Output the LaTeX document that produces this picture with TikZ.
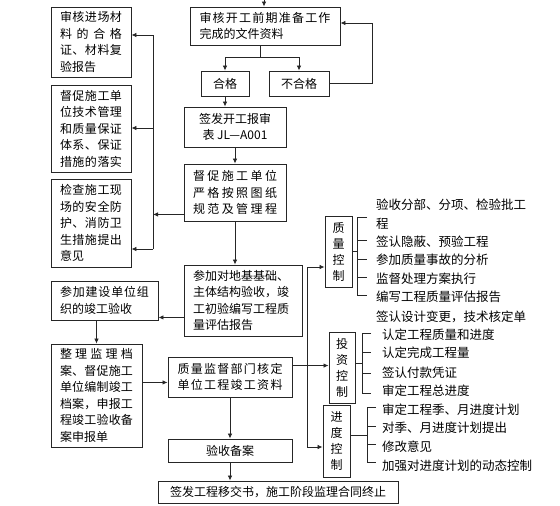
\documentclass[tikz,border=0pt]{standalone}
\usepackage{fontspec}
\newfontfamily\cjk{Noto Sans CJK SC}
\usetikzlibrary{calc,arrows.meta}
\makeatletter
\def\spr#1#2{\makebox[#1][s]{\spr@first#2\relax}}
\def\spr@first#1{#1\spr@loop}
\def\spr@loop#1{\ifx#1\relax\else\hfill#1\expandafter\spr@loop\fi}
\makeatother
\begin{document}
\begin{tikzpicture}[x=1pt,y=-1pt,
 box/.style={draw=black!85, line width=0.9pt, inner sep=0pt, font=\cjk\fontsize{12}{16.5}\selectfont, align=left},
 cbox/.style={box, align=center},
 vbox/.style={box, align=center, text width=14pt, font=\cjk\fontsize{12}{16}\selectfont},
 ln/.style={draw=black!85, line width=0.8pt},
 arr/.style={ln, -{Latex[length=5pt,width=4.5pt]}},
 lst/.style={anchor=west, inner sep=0pt, font=\cjk\fontsize{12.5}{14}\selectfont}]
\useasboundingbox (0,0) rectangle (560,506);
\fill[white] (0,0) rectangle (560,506);

% left column
\node[box, minimum width=80pt, minimum height=70pt, text width=62pt] (l1) at (91,42)
 {\spr{62pt}{审核进场材}\\\spr{62pt}{料的合格}\\\spr{62pt}{证、材料复}\\验报告};
\node[box, minimum width=80pt, minimum height=87pt, text width=62pt] (l2) at (91,128.5)
 {\spr{62pt}{督促施工单}\\\spr{62pt}{位技术管理}\\\spr{62pt}{和质量保证}\\\spr{62pt}{体系、保证}\\\spr{62pt}{措施的落实}};
\node[box, minimum width=80pt, minimum height=88pt, text width=62pt] (l3) at (91,223)
 {\spr{62pt}{检查施工现}\\\spr{62pt}{场的安全防}\\\spr{62pt}{护、消防卫}\\\spr{62pt}{生措施提出}\\意见};
\node[box, minimum width=107pt, minimum height=39pt, text width=89pt] (js) at (104.5,300.5)
 {\spr{89pt}{参加建设单位组}\\织的竣工验收};
\node[box, minimum width=91pt, minimum height=103pt, text width=73pt] (zl) at (96.5,395.5)
 {\spr{73pt}{整理监理档}\\\spr{73pt}{案、督促施工}\\\spr{73pt}{单位编制竣工}\\\spr{73pt}{档案，申报工}\\\spr{73pt}{程竣工验收备}\\案申报单};

% central column
\node[box, minimum width=150pt, minimum height=38pt, text width=131pt] (top) at (265,26)
 {\spr{131pt}{审核开工前期准备工作}\\完成的文件资料};
\node[cbox, minimum width=48pt, minimum height=25pt] (hg) at (225,83.5) {合格};
\node[cbox, minimum width=60pt, minimum height=25pt] (bhg) at (299,83.5) {不合格};
\node[cbox, minimum width=102pt, minimum height=40pt] (qf) at (235,127) {签发开工报审\\表 JL—A001};
\node[box, minimum width=102pt, minimum height=57pt, text width=84pt] (dc) at (235,192.5)
 {\spr{84pt}{督促施工单位}\\\spr{84pt}{严格按照图纸}\\\spr{84pt}{规范及管理程}};
\node[box, minimum width=118pt, minimum height=71pt, text width=100pt] (cj) at (243,300.5)
 {参加对地基基础、\\主体结构验收，竣\\工初验编写工程质\\量评估报告};
\node[box, minimum width=124pt, minimum height=40pt, text width=105pt] (zj) at (230,377)
 {\spr{105pt}{质量监督部门核定}\\\spr{105pt}{单位工程竣工资料}};
\node[cbox, minimum width=124pt, minimum height=23pt] (ys) at (230,450.5) {验收备案};
\node[cbox, minimum width=240pt, minimum height=22pt] (last) at (278,492) {签发工程移交书，施工阶段监理合同终止};

% control boxes
\node[vbox, minimum width=27pt, minimum height=71pt] (zk) at (338.5,251.5) {质\\量\\控\\制};
\node[vbox, minimum width=26pt, minimum height=71pt] (tz) at (342,367.5) {投\\资\\控\\制};
\node[vbox, minimum width=27pt, minimum height=72pt] (jd) at (336.5,441) {进\\度\\控\\制};

% lists
\node[lst] (q1) at (376,205) {验收分部、分项、检验批工};
\node[lst] (q2) at (376,224) {程};
\node[lst] (q3) at (376,242) {签认隐蔽、预验工程};
\node[lst] (q4) at (376,260) {参加质量事故的分析};
\node[lst] (q5) at (376,279) {监督处理方案执行};
\node[lst] (q6) at (376,297) {编写工程质量评估报告};
\node[lst] (q7) at (376,317) {签认设计变更，技术核定单};
\node[lst] (t1) at (382,335) {认定工程质量和进度};
\node[lst] (t2) at (382,353) {认定完成工程量};
\node[lst] (t3) at (382,373) {签认付款凭证};
\node[lst] (t4) at (382,391) {审定工程总进度};
\node[lst] (p1) at (382,410) {审定工程季、月进度计划};
\node[lst] (p2) at (382,428) {对季、月进度计划提出};
\node[lst] (p3) at (382,447) {修改意见};
\node[lst] (p4) at (382,466) {加强对进度计划的动态控制};

% top flow
\coordinate (topin) at (264,0);
\draw[arr] (topin) -- (topin |- top.north);
\coordinate (j1) at (260,57);
\draw[ln] (j1 |- top.south) -- (j1);
\draw[arr] (j1) -| (hg.north);
\draw[arr] (j1) -| (bhg.north);
\coordinate (r1) at (372,23);
\draw[arr] (bhg.east) -| (r1) -- (r1 -| top.east);
\draw[arr] (hg.south) -- (hg.south |- qf.north);
\draw[arr] (qf.south) -- (dc.north);
\draw[arr] (dc.south) -- (dc.south |- cj.north);

% left bus
\coordinate (lvt) at (153,35);
\coordinate (lvm) at (153,128);
\coordinate (lvb) at (153,249);
\draw[ln] (lvt) -- (lvb);
\draw[arr] (lvt) -- (lvt -| l1.east);
\draw[arr] (lvm) -- (lvm -| l2.east);
\draw[arr] (lvb) -- (lvb -| l3.east);
\coordinate (dcw) at ($(dc.south west)+(0,-7)$);
\draw[arr] (dcw) -- (dcw -| lvt);

% lower flow
\coordinate (cjw) at ($(cj.south west)+(0,-19)$);
\draw[arr] (cjw) -- (cjw -| js.east);
\draw[arr] (zl.north |- js.south) -- (zl.north);
\coordinate (zjw) at ($(zj.south west)+(0,-15)$);
\draw[arr] (zjw -| zl.east) -- (zjw);
\draw[arr] (zj.south) -- (ys.north);
\draw[arr] (ys.south) -- (ys.south |- last.north);

% right bus
\coordinate (zje) at ($(zj.north east)+(0,9)$);
\draw[arr] (zje) -- (zje -| tz.west);
\coordinate (rv1) at (307,267);
\coordinate (rv2) at (307,447);
\draw[ln] (rv1) -- (rv2);
\draw[arr] (rv1) -- (rv1 -| zk.west);
\draw[arr] (rv2) -- (rv2 -| jd.west);

% brackets
\coordinate (zkb) at (357,252);
\draw[ln] (zk.east) -- (zk.east -| zkb);
\draw[ln] (367,217) -| (357,295) -- (367,295);
\foreach \yy in {240,259,277} \draw[ln] (357,\yy) -- (367,\yy);
\coordinate (tzb) at (362,363);
\draw[ln] (tzb -| tz.east) -- (tzb);
\draw[ln] (371,333) -| (362,393) -- (371,393);
\foreach \yy in {352,373} \draw[ln] (362,\yy) -- (371,\yy);
\coordinate (jdb) at (367,435);
\draw[ln] (jdb -| jd.east) -- (jdb);
\draw[ln] (376,407) -| (367,462) -- (376,462);
\foreach \yy in {426,444} \draw[ln] (367,\yy) -- (376,\yy);
\end{tikzpicture}
\end{document}
